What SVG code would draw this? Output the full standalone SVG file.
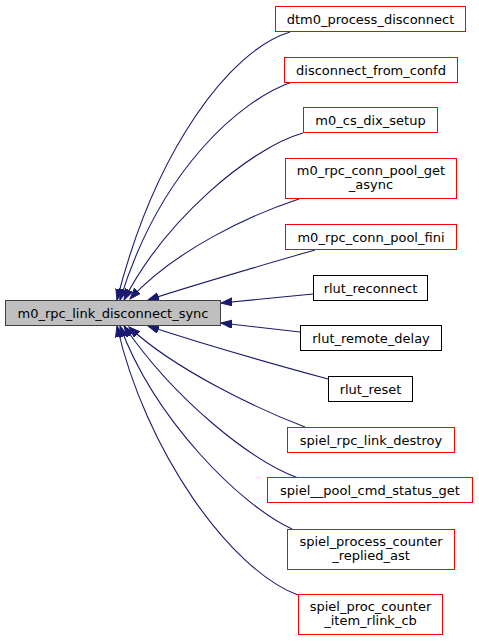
<svg xmlns="http://www.w3.org/2000/svg" width="479" height="641" viewBox="0 0 479 641">
<style>
.n rect{fill:#fff;stroke-width:1}
.r rect{stroke:#ff0000}
.k rect{stroke:#000}
.m rect{fill:#bfbfbf;stroke:#404040}
text{font-family:"DejaVu Sans",sans-serif;font-size:13px;text-anchor:middle;fill:#000}
.e path{fill:none;stroke:#191970;stroke-width:1.1;marker-end:url(#ah)}
</style>
<defs>
<marker id="ah" markerUnits="userSpaceOnUse" markerWidth="13" markerHeight="10" refX="11" refY="4" orient="auto">
<path d="M0,0 L11,4 L0,8 z" fill="#191970" stroke="#191970" stroke-width="1"/>
</marker>
</defs>
<rect width="479" height="641" fill="#fff"/>
<g class="e" id="edges">
<path d="M290,32 C230,50 155,150 117,300"/>
<path d="M292,82 C240,100 160,170 120,300"/>
<path d="M303,133 C250,148 165,220 124,300"/>
<path d="M299,199 C250,215 175,250 130,299"/>
<path d="M315,250 C270,263 200,283 148,300"/>
<path d="M313,294 L221,303"/>
<path d="M300,332 L221,323"/>
<path d="M328,379 C280,366 200,343 148,326"/>
<path d="M305,427 C260,410 175,370 129,327"/>
<path d="M298,478 C250,460 175,400 124,326"/>
<path d="M292,529 C240,505 155,420 120,326"/>
<path d="M298,595 C230,570 145,450 117,326"/>
</g>
<g id="main" class="n m"><rect x="5.5" y="300.5" width="215" height="25"/><text x="113" y="317.5">m0_rpc_link_disconnect_sync</text></g>
<g id="n1" class="n r"><rect x="275.5" y="6.5" width="190" height="25"/><text x="370.5" y="23.5">dtm0_process_disconnect</text></g>
<g id="n2" class="n r"><rect x="284.5" y="57.5" width="173" height="25"/><text x="371" y="74.5">disconnect_from_confd</text></g>
<g id="n3" class="n r"><rect x="303.5" y="107.5" width="134" height="25"/><text x="370.5" y="124.5">m0_cs_dix_setup</text></g>
<g id="n4" class="n r"><rect x="285.5" y="158.5" width="171" height="40"/><text x="371" y="175">m0_rpc_conn_pool_get</text><text x="371" y="189">_async</text></g>
<g id="n5" class="n r"><rect x="285.5" y="224.5" width="171" height="25"/><text x="371" y="241.5">m0_rpc_conn_pool_fini</text></g>
<g id="n6" class="n k"><rect x="313.5" y="275.5" width="114" height="25"/><text x="370.5" y="292.5">rlut_reconnect</text></g>
<g id="n7" class="n k"><rect x="300.5" y="325.5" width="141" height="25"/><text x="371" y="342.5">rlut_remote_delay</text></g>
<g id="n8" class="n k"><rect x="328.5" y="376.5" width="84" height="25"/><text x="370.5" y="393.5">rlut_reset</text></g>
<g id="n9" class="n r"><rect x="287.5" y="427.5" width="167" height="25"/><text x="371" y="444.5">spiel_rpc_link_destroy</text></g>
<g id="n10" class="n r"><rect x="267.5" y="477.5" width="205" height="25"/><text x="370" y="494.5">spiel__pool_cmd_status_get</text></g>
<g id="n11" class="n r"><rect x="287.5" y="529.5" width="167" height="40"/><text x="371" y="546">spiel_process_counter</text><text x="371" y="560">_replied_ast</text></g>
<g id="n12" class="n r"><rect x="298.5" y="594.5" width="144" height="40"/><text x="370.5" y="611">spiel_proc_counter</text><text x="370.5" y="625">_item_rlink_cb</text></g>
</svg>
